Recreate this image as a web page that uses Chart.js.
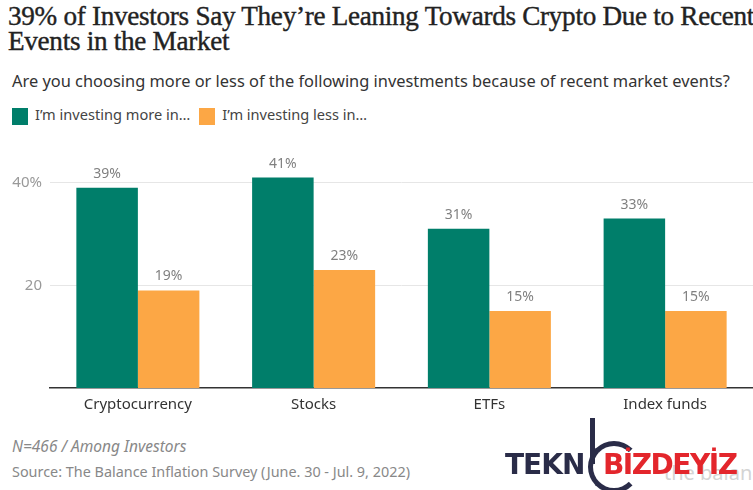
<!DOCTYPE html>
<html>
<head>
<meta charset="utf-8">
<script src="https://cdn.jsdelivr.net/npm/chart.js@4/dist/chart.umd.min.js"></script>
<style>
  body { margin: 0; width: 753px; height: 490px; overflow: hidden; background: #fff; position: relative; font-family: 'Noto Sans', sans-serif; }
  .title { position: absolute; left: 8px; top: 3px; width: 820px; font-family: 'Liberation Serif', serif; font-size: 28px; line-height: 25px; color: #222; white-space: nowrap; letter-spacing: -0.3px; transform: scaleX(0.97); transform-origin: left top; -webkit-text-stroke: 0.4px #222; }
  .subtitle { position: absolute; left: 12px; top: 69px; font-size: 16.4px; color: #333; white-space: nowrap; }
  .legend { position: absolute; left: 12px; top: 104px; font-size: 14.6px; color: #444; white-space: nowrap; }
  .legend span.sw { display: inline-block; width: 16px; height: 17px; vertical-align: middle; margin-right: 7px; }
  .legend span.item { margin-right: 9px; }
  #wrap { position: absolute; left: 0; top: 140px; width: 753px; height: 280px; }
  .note { position: absolute; left: 12px; top: 435px; font-size: 15.5px; font-style: italic; color: #888; white-space: nowrap; }
  .source { position: absolute; left: 12px; top: 462px; font-size: 14.4px; color: #888; white-space: nowrap; }
  .wm { position: absolute; font-family: 'DejaVu Sans', sans-serif; font-weight: bold; white-space: nowrap; }
</style>
</head>
<body>
<div class="title">39% of Investors Say They’re Leaning Towards Crypto Due to Recent<br>Events in the Market</div>
<div class="subtitle">Are you choosing more or less of the following investments because of recent market events?</div>
<div class="legend" id="legend"></div>
<div id="wrap"><canvas id="chart"></canvas></div>
<div class="note">N=466 / Among Investors</div>
<div class="source">Source: The Balance Inflation Survey (June. 30 - Jul. 9, 2022)</div>
<div class="wm" style="left:664px; top:459px; font-size:20px; font-weight:normal; color:#d4d4d4; font-family:'Noto Sans',sans-serif;">the balance</div>
<div class="wm" style="left:505px; top:448px; font-size:28px; color:#2a2c48; letter-spacing:-1px;">TEKN</div>
<div class="wm" style="left:588px; top:441px; width:42px; height:42px; border:5px solid #2a2c48; border-right-color:transparent; border-radius:50%;"></div>
<div class="wm" style="left:590px; top:418px; width:5px; height:46px; background:#2a2c48;"></div>
<div class="wm" style="left:603px; top:448px; font-size:28px; color:#e3262c; letter-spacing:-1.5px;">BİZDEYİZ</div>
<script>
const categories = ['Cryptocurrency', 'Stocks', 'ETFs', 'Index funds'];
const moreValues = [39, 41, 31, 33];
const lessValues = [19, 23, 15, 15];
const seriesNames = ['I’m investing more in…', 'I’m investing less in…'];
const seriesColors = ['#007e6a', '#fca745'];
const yTicks = [20, 40];

// Legend built from the series
document.getElementById('legend').innerHTML = seriesNames.map((name, i) =>
  `<span class="item"><span class="sw" style="background:${seriesColors[i]}"></span>${name}</span>`
).join('');

// Percent labels above each bar
const barLabels = {
  id: 'barLabels',
  afterDatasetsDraw(chart) {
    const ctx = chart.ctx;
    ctx.save();
    ctx.font = '14px "Noto Sans"';
    ctx.fillStyle = '#808080';
    ctx.textAlign = 'center';
    ctx.textBaseline = 'alphabetic';
    chart.data.datasets.forEach((ds, di) => {
      chart.getDatasetMeta(di).data.forEach((bar, i) => {
        ctx.fillText(ds.data[i] + '%', bar.x, bar.y - 10);
      });
    });
    ctx.restore();
  }
};

new Chart(document.getElementById('chart'), {
  type: 'bar',
  data: {
    labels: categories,
    datasets: [
      { label: seriesNames[0], data: moreValues, backgroundColor: seriesColors[0] },
      { label: seriesNames[1], data: lessValues, backgroundColor: seriesColors[1] }
    ]
  },
  options: {
    responsive: true,
    maintainAspectRatio: false,
    animation: false,
    layout: { padding: { top: 6, right: 0, left: 0, bottom: 0 } },
    categoryPercentage: 0.7,
    barPercentage: 1.0,
    plugins: { legend: { display: false }, tooltip: { enabled: false } },
    scales: {
      x: {
        grid: { display: false },
        border: { color: '#333', width: 1.5 },
        ticks: { color: '#333', font: { family: 'Noto Sans', size: 15 }, padding: 0 },
        afterFit(scale) { scale.height = 32; }
      },
      y: {
        min: 0,
        max: 45,
        afterBuildTicks(scale) { scale.ticks = yTicks.map(v => ({ value: v })); },
        grid: { color: '#e6e6e6', drawTicks: false },
        border: { display: false },
        ticks: {
          color: '#999',
          font: { family: 'Noto Sans', size: 15 },
          padding: 8,
          callback: (v) => v === 40 ? v + '%' : v
        },
        afterFit(scale) { scale.width = 50; }
      }
    }
  },
  plugins: [barLabels]
});
</script>
</body>
</html>
